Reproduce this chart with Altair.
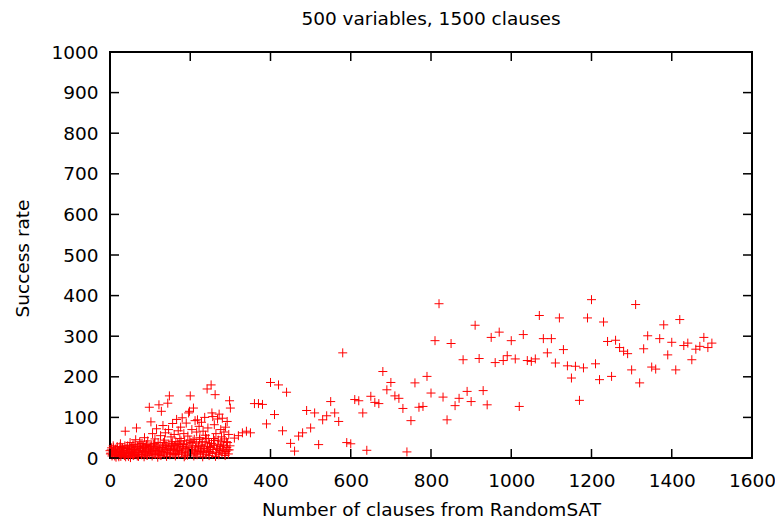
import altair as alt
import pandas as pd

# ---- data ----
# dense cluster, even clause counts 0..300
cluster_a_x = list(range(0, 302, 2))
cluster_a_y = [
    18, 12, 25, 8, 30, 15, 5, 22, 10, 28,
    14, 3, 20, 35, 9, 26, 12, 18, 6, 66,
    24, 11, 30, 4, 17, 38, 13, 27, 8, 21,
    33, 10, 45, 74, 5, 29, 14, 40, 22, 9,
    36, 16, 26, 50, 12, 31, 7, 42, 20, 125,
    28, 89, 15, 60, 34, 10, 47, 23, 72, 18,
    38, 131, 8, 55, 115, 26, 80, 14, 44, 62,
    30, 20, 135, 70, 153, 12, 52, 36, 85, 24,
    58, 9, 40, 95, 18, 67, 33, 48, 76, 15,
    99, 28, 60, 42, 7, 86, 25, 54, 111, 115,
    153, 38, 70, 20, 123, 46, 92, 12, 64, 94,
    30, 78, 50, 16, 88, 40, 66, 24, 100, 56,
    48, 170, 74, 14, 35, 28, 180, 111, 102, 48,
    82, 156, 60, 22, 96, 44, 108, 18, 70, 52,
    98, 30, 64, 12, 76, 40, 90, 20, 58, 141,
    123,
]
# dense cluster, odd clause counts 1..299
cluster_b_x = list(range(1, 300, 2))
cluster_b_y = [
    10, 20, 5, 15, 25, 8, 18, 2, 12, 22,
    6, 16, 28, 4, 14, 24, 9, 19, 30, 3,
    13, 23, 7, 17, 27, 1, 11, 21, 32, 6,
    15, 25, 9, 19, 29, 4, 14, 24, 35, 8,
    18, 28, 3, 13, 23, 33, 7, 17, 27, 10,
    20, 30, 5, 15, 25, 36, 9, 19, 29, 2,
    12, 22, 32, 6, 16, 26, 38, 10, 20, 30,
    4, 14, 24, 34, 8, 18, 28, 40, 11, 21,
    31, 5, 15, 25, 36, 9, 19, 29, 42, 12,
    22, 33, 3, 13, 23, 35, 7, 17, 27, 44,
    10, 20, 30, 41, 5, 15, 25, 37, 8, 18,
    28, 46, 12, 22, 32, 3, 14, 24, 39, 9,
    19, 29, 48, 6, 16, 26, 36, 11, 21, 31,
    43, 4, 14, 24, 34, 8, 18, 28, 40, 12,
    22, 32, 47, 6, 16, 26, 38, 10, 20, 30,
]
# sparse part, clause counts 310..1500 step 10
sparse_x = list(range(310, 1510, 10))
sparse_y = [
    49, 55, 62, 66, 62, 134, 134, 132, 84, 186,
    107, 180, 67, 162, 36, 17, 54, 62, 117, 74,
    111, 33, 94, 104, 139, 111, 90, 259, 38, 35,
    144, 141, 111, 19, 152, 137, 134, 213, 168, 186,
    153, 147, 122, 15, 92, 185, 125, 127, 201, 160,
    289, 380, 150, 94, 282, 129, 147, 242, 164, 139,
    327, 245, 166, 131, 297, 235, 310, 240, 252, 289,
    244, 127, 304, 240, 238, 244, 351, 294, 259, 294,
    234, 345, 267, 227, 197, 226, 142, 222, 345, 390,
    232, 193, 335, 287, 201, 290, 272, 263, 257, 217,
    378, 185, 269, 301, 224, 219, 294, 328, 254, 285,
    217, 341, 277, 283, 242, 268, 275, 297, 272, 283,
]

x_ticks = [0, 200, 400, 600, 800, 1000, 1200, 1400, 1600]
y_ticks = [0, 100, 200, 300, 400, 500, 600, 700, 800, 900, 1000]

df = pd.DataFrame({
    "x": cluster_a_x + cluster_b_x + sparse_x,
    "y": cluster_a_y + cluster_b_y + sparse_y,
})
xt = pd.DataFrame({"x": x_ticks})
yt = pd.DataFrame({"y": y_ticks})

W, H = 642, 406
FONT = "DejaVu Sans"
FS = 18.5
TL = 9

xscale = alt.Scale(domain=[0, 1600], nice=False, zero=False)
yscale = alt.Scale(domain=[0, 1000], nice=False, zero=False)

xaxis = alt.Axis(values=x_ticks, title="Number of clauses from RandomSAT",
                 grid=False, ticks=False, domain=False, labelFlush=False,
                 labelPadding=13, labelFont=FONT, labelFontSize=FS, labelColor="black",
                 titleFont=FONT, titleFontSize=FS, titleFontWeight="normal", titleColor="black",
                 titleX=W / 2, titleY=57, titleAlign="center", titleBaseline="alphabetic",
                 format="d", labelOverlap=False)
yaxis = alt.Axis(values=y_ticks, title="Success rate",
                 grid=False, ticks=False, domain=False, labelFlush=False,
                 labelPadding=12, labelFont=FONT, labelFontSize=FS, labelColor="black",
                 titleFont=FONT, titleFontSize=FS, titleFontWeight="normal", titleColor="black",
                 titleX=-88, titleY=206, titleAngle=270, titleAlign="center",
                 titleBaseline="middle", format="d", labelOverlap=False)

points = alt.Chart(df).mark_point(
    shape="M-1,0L1,0M0,-1L0,1", filled=False, color="#ff0000",
    strokeWidth=1, size=81, opacity=1,
).encode(
    x=alt.X("x:Q", scale=xscale, axis=xaxis),
    y=alt.Y("y:Q", scale=yscale, axis=yaxis),
)

tick_style = dict(color="black", strokeWidth=1.5)
bottom_ticks = alt.Chart(xt).mark_rule(**tick_style).encode(
    x=alt.X("x:Q", scale=xscale, axis=xaxis), y=alt.value(H), y2=alt.value(H - TL))
top_ticks = alt.Chart(xt).mark_rule(**tick_style).encode(
    x=alt.X("x:Q", scale=xscale, axis=xaxis), y=alt.value(0), y2=alt.value(TL))
left_ticks = alt.Chart(yt).mark_rule(**tick_style).encode(
    y=alt.Y("y:Q", scale=yscale, axis=yaxis), x=alt.value(0), x2=alt.value(TL))
right_ticks = alt.Chart(yt).mark_rule(**tick_style).encode(
    y=alt.Y("y:Q", scale=yscale, axis=yaxis), x=alt.value(W - TL), x2=alt.value(W))

chart = alt.layer(points, bottom_ticks, top_ticks, left_ticks, right_ticks).properties(
    width=W, height=H,
    title=alt.TitleParams("500 variables, 1500 clauses", font=FONT, fontSize=FS,
                          fontWeight="normal", color="black", anchor="middle", offset=15),
    autosize=alt.AutoSizeParams(type="none"),
    padding={"left": 102, "top": 44, "right": 23, "bottom": 61},
).configure(background="white").configure_view(stroke="black", strokeWidth=2)

chart.save("out.html", embed_options={"renderer": "svg", "actions": False})
